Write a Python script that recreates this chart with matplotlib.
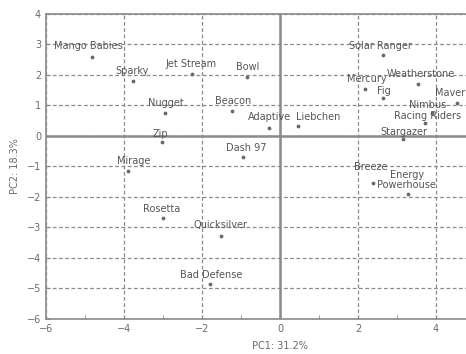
import matplotlib.pyplot as plt
import numpy as np

# Data (PCA scores)
names = ['Mango Babies', 'Sparky', 'Jet Stream', 'Bowl', 'Nugget', 'Beacon',
         'Adaptive', 'Liebchen', 'Zip', 'Mirage', 'Dash 97', 'Rosetta',
         'Quicksilver', 'Bad Defense', 'Solar Ranger', 'Mercury',
         'Weatherstone', 'Fig', 'Maverick', 'Nimbus', 'Racing Riders',
         'Stargazer', 'Breeze', 'Energy\nPowerhouse']
pc1 = [-4.82, -3.77, -2.26, -0.85, -2.95, -1.23, -0.28, 0.46, -3.03, -3.90,
       -0.95, -3.00, -1.51, -1.79, 2.64, 2.18, 3.54, 2.64, 4.55, 3.90, 3.72,
       3.15, 2.38, 3.28]
pc2 = [2.59, 1.80, 2.03, 1.93, 0.75, 0.82, 0.26, 0.33, -0.20, -1.15, -0.69,
       -2.69, -3.28, -4.85, 2.66, 1.54, 1.70, 1.25, 1.08, 0.75, 0.43, -0.10,
       -1.54, -1.90]

# label offsets from each point (pixels)
offsets = [(-4, 11), (-1, 10), (-1, 10), (1, 10), (1, 10), (1, 10), (0, 11),
           (20, 9), (-1, 8), (6, 10), (3, 9), (-1, 9), (-1, 11), (1, 9),
           (-3, 9), (2, 10), (3, 10), (1, 7), (0, 10), (-4, 8), (2, 7),
           (1, 7), (-2, 16), (-1, 14)]

grey = '#6a6a6a'

fig = plt.figure(figsize=(4.66, 3.54), dpi=100)
ax = fig.add_axes([46 / 466, 1 - 319 / 354, 468 / 466, 305 / 354])

ax.set_xlim(-6, 6)
ax.set_ylim(-6, 4)
ax.set_xticks(np.arange(-6, 7, 2))
ax.set_xticks(np.arange(-5, 6, 2), minor=True)
ax.set_yticks(np.arange(-6, 5, 1))

ax.grid(True, which='major', linestyle=(0, (3, 2)), color='#8a8a8a', linewidth=0.9)
ax.axhline(0, color='#8a8a8a', linewidth=1.8, zorder=1)
ax.axvline(0, color='#8a8a8a', linewidth=1.8, zorder=1)

for s in ax.spines.values():
    s.set_color('#8a8a8a')
    s.set_linewidth(1.2)

ax.tick_params(which='both', direction='in', colors='#8a8a8a', labelcolor=grey,
               labelsize=7, length=3)

ax.scatter(pc1, pc2, s=3, color=grey, zorder=3)
for name, x, y, off in zip(names, pc1, pc2, offsets):
    ax.annotate(name, (x, y), xytext=off, textcoords='offset pixels',
                ha='center', va='center', fontsize=7, color='#555555',
                linespacing=0.9, zorder=4)

ax.set_xlabel('PC1: 31.2%', fontsize=7, color=grey, labelpad=5)
ax.set_ylabel('PC2: 18.3%', fontsize=7, color=grey, labelpad=5)

plt.savefig('out.png', dpi=100)
